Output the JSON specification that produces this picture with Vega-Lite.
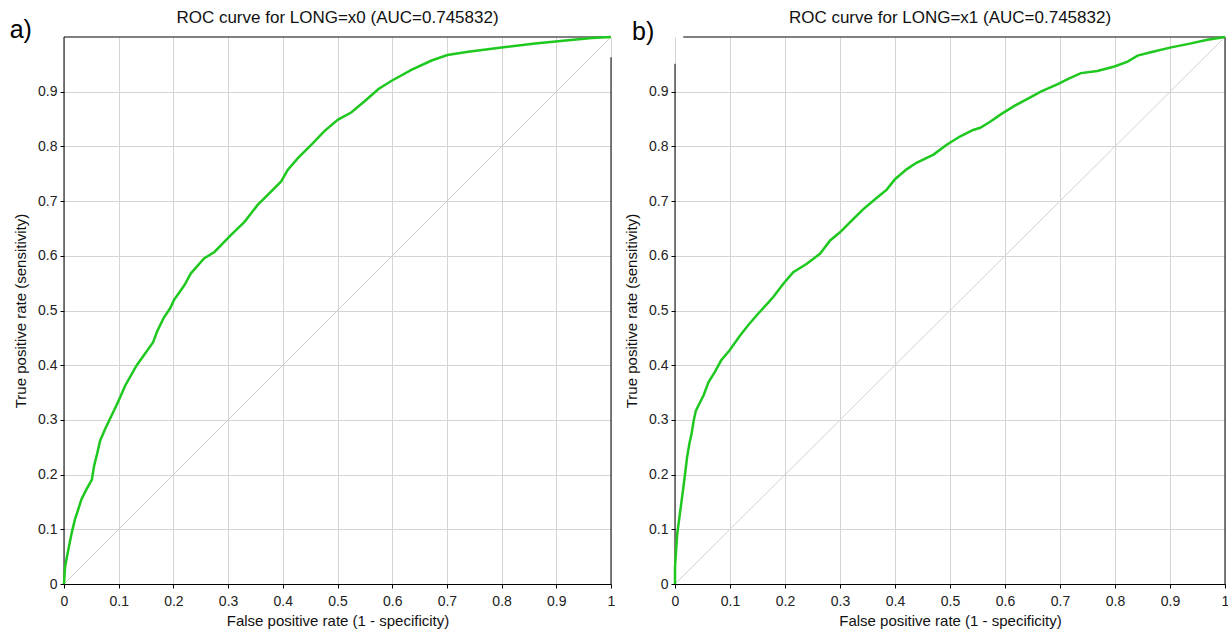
{
  "$schema": "https://vega.github.io/schema/vega-lite/v6.json",
  "padding": {"left": 9, "top": 8, "right": 2, "bottom": 2},
  "background": "#ffffff",
  "spacing": 8,
  "datasets": {
    "curveA": [
      {"fpr":0,"tpr":0},{"fpr":0.002,"tpr":0.032},{"fpr":0.008,"tpr":0.063},{"fpr":0.014,"tpr":0.093},{"fpr":0.020,"tpr":0.118},{"fpr":0.024,"tpr":0.130},{"fpr":0.032,"tpr":0.155},{"fpr":0.041,"tpr":0.173},{"fpr":0.051,"tpr":0.191},{"fpr":0.055,"tpr":0.216},{"fpr":0.061,"tpr":0.240},{"fpr":0.066,"tpr":0.262},{"fpr":0.075,"tpr":0.283},{"fpr":0.087,"tpr":0.308},{"fpr":0.099,"tpr":0.333},{"fpr":0.112,"tpr":0.363},{"fpr":0.133,"tpr":0.400},{"fpr":0.148,"tpr":0.421},{"fpr":0.163,"tpr":0.442},{"fpr":0.170,"tpr":0.461},{"fpr":0.182,"tpr":0.486},{"fpr":0.194,"tpr":0.504},{"fpr":0.201,"tpr":0.519},{"fpr":0.220,"tpr":0.546},{"fpr":0.232,"tpr":0.568},{"fpr":0.256,"tpr":0.595},{"fpr":0.275,"tpr":0.607},{"fpr":0.305,"tpr":0.638},{"fpr":0.330,"tpr":0.662},{"fpr":0.354,"tpr":0.693},{"fpr":0.372,"tpr":0.711},{"fpr":0.397,"tpr":0.736},{"fpr":0.409,"tpr":0.757},{"fpr":0.428,"tpr":0.779},{"fpr":0.452,"tpr":0.803},{"fpr":0.476,"tpr":0.828},{"fpr":0.501,"tpr":0.849},{"fpr":0.525,"tpr":0.862},{"fpr":0.550,"tpr":0.883},{"fpr":0.575,"tpr":0.905},{"fpr":0.599,"tpr":0.920},{"fpr":0.635,"tpr":0.940},{"fpr":0.672,"tpr":0.957},{"fpr":0.701,"tpr":0.967},{"fpr":0.739,"tpr":0.973},{"fpr":0.800,"tpr":0.981},{"fpr":0.861,"tpr":0.988},{"fpr":0.922,"tpr":0.994},{"fpr":0.965,"tpr":0.998},{"fpr":1,"tpr":1}
    ],
    "curveB": [
      {"fpr":0,"tpr":0},{"fpr":0,"tpr":0.03},{"fpr":0.002,"tpr":0.061},{"fpr":0.004,"tpr":0.091},{"fpr":0.008,"tpr":0.122},{"fpr":0.012,"tpr":0.152},{"fpr":0.016,"tpr":0.183},{"fpr":0.019,"tpr":0.207},{"fpr":0.022,"tpr":0.232},{"fpr":0.026,"tpr":0.256},{"fpr":0.030,"tpr":0.274},{"fpr":0.034,"tpr":0.299},{"fpr":0.038,"tpr":0.317},{"fpr":0.044,"tpr":0.329},{"fpr":0.052,"tpr":0.345},{"fpr":0.061,"tpr":0.369},{"fpr":0.072,"tpr":0.387},{"fpr":0.084,"tpr":0.409},{"fpr":0.099,"tpr":0.427},{"fpr":0.118,"tpr":0.454},{"fpr":0.133,"tpr":0.473},{"fpr":0.151,"tpr":0.494},{"fpr":0.170,"tpr":0.515},{"fpr":0.179,"tpr":0.525},{"fpr":0.197,"tpr":0.549},{"fpr":0.215,"tpr":0.570},{"fpr":0.239,"tpr":0.585},{"fpr":0.264,"tpr":0.604},{"fpr":0.282,"tpr":0.628},{"fpr":0.300,"tpr":0.643},{"fpr":0.318,"tpr":0.661},{"fpr":0.342,"tpr":0.685},{"fpr":0.367,"tpr":0.706},{"fpr":0.385,"tpr":0.721},{"fpr":0.400,"tpr":0.740},{"fpr":0.421,"tpr":0.758},{"fpr":0.439,"tpr":0.770},{"fpr":0.470,"tpr":0.785},{"fpr":0.494,"tpr":0.803},{"fpr":0.518,"tpr":0.818},{"fpr":0.542,"tpr":0.830},{"fpr":0.555,"tpr":0.834},{"fpr":0.573,"tpr":0.845},{"fpr":0.593,"tpr":0.859},{"fpr":0.617,"tpr":0.874},{"fpr":0.641,"tpr":0.887},{"fpr":0.665,"tpr":0.900},{"fpr":0.696,"tpr":0.914},{"fpr":0.714,"tpr":0.923},{"fpr":0.738,"tpr":0.934},{"fpr":0.768,"tpr":0.938},{"fpr":0.799,"tpr":0.946},{"fpr":0.823,"tpr":0.955},{"fpr":0.841,"tpr":0.966},{"fpr":0.865,"tpr":0.972},{"fpr":0.902,"tpr":0.981},{"fpr":0.932,"tpr":0.987},{"fpr":0.968,"tpr":0.995},{"fpr":1,"tpr":1}
    ],
    "diag": [{"fpr":0,"tpr":0},{"fpr":1,"tpr":1}],
    "labA": [{"label":"a)"}],
    "labB": [{"label":"b)"}]
  },
  "hconcat": [
    {
      "width": 547,
      "height": 547,
      "title": {"text": "ROC curve for LONG=x0 (AUC=0.745832)", "offset": -9},
      "layer": [
        {
          "data": {"name": "diag"},
          "mark": {"type": "line", "color": "#d2d2d2", "strokeWidth": 1},
          "encoding": {
            "x": {"field": "fpr", "type": "quantitative", "scale": {"domain": [0, 1], "nice": false},
                  "axis": {"title": "False positive rate (1 - specificity)", "values": [0,0.1,0.2,0.3,0.4,0.5,0.6,0.7,0.8,0.9,1], "format": "~g"}},
            "y": {"field": "tpr", "type": "quantitative", "scale": {"domain": [0, 1], "nice": false},
                  "axis": {"title": "True positive rate (sensitivity)", "values": [0,0.1,0.2,0.3,0.4,0.5,0.6,0.7,0.8,0.9], "format": "~g", "domain": false}}
          }
        },
        {
          "data": {"name": "labA"},
          "mark": {"type": "rule", "color": "#000", "strokeWidth": 1},
          "encoding": {"x": {"datum": 0}, "y": {"datum": 0}, "y2": {"datum": 1}}
        },
        {
          "data": {"name": "labA"},
          "mark": {"type": "rule", "color": "#000", "strokeWidth": 1},
          "encoding": {"x": {"datum": 0}, "x2": {"datum": 0.985}, "y": {"datum": 1}}
        },
        {
          "data": {"name": "labA"},
          "mark": {"type": "rule", "color": "#000", "strokeWidth": 1},
          "encoding": {"x": {"datum": 1}, "y": {"datum": 0}, "y2": {"datum": 0.963}}
        },
        {
          "data": {"name": "curveA"},
          "mark": {"type": "line", "color": "#1ec81e", "strokeWidth": 2.5},
          "encoding": {
            "x": {"field": "fpr", "type": "quantitative"},
            "y": {"field": "tpr", "type": "quantitative"},
            "order": {"field": "tpr", "type": "quantitative"}
          }
        },
        {
          "data": {"name": "labA"},
          "mark": {"type": "text", "fontSize": 25, "font": "Liberation Sans", "color": "#000"},
          "encoding": {
            "x": {"datum": -0.079},
            "y": {"datum": 1.013},
            "text": {"field": "label", "type": "nominal"}
          }
        }
      ]
    },
    {
      "width": 550,
      "height": 547,
      "title": {"text": "ROC curve for LONG=x1 (AUC=0.745832)", "offset": -7},
      "layer": [
        {
          "data": {"name": "diag"},
          "mark": {"type": "line", "color": "#d2d2d2", "strokeWidth": 1},
          "encoding": {
            "x": {"field": "fpr", "type": "quantitative", "scale": {"domain": [0, 1], "nice": false},
                  "axis": {"title": "False positive rate (1 - specificity)", "values": [0,0.1,0.2,0.3,0.4,0.5,0.6,0.7,0.8,0.9,1], "format": "~g"}},
            "y": {"field": "tpr", "type": "quantitative", "scale": {"domain": [0, 1], "nice": false},
                  "axis": {"title": "True positive rate (sensitivity)", "values": [0,0.1,0.2,0.3,0.4,0.5,0.6,0.7,0.8,0.9], "format": "~g", "domain": false}}
          }
        },
        {
          "data": {"name": "labB"},
          "mark": {"type": "rule", "color": "#000", "strokeWidth": 1},
          "encoding": {"x": {"datum": 0}, "y": {"datum": 0}, "y2": {"datum": 0.951}}
        },
        {
          "data": {"name": "labB"},
          "mark": {"type": "rule", "color": "#000", "strokeWidth": 1},
          "encoding": {"x": {"datum": 0.015}, "x2": {"datum": 1}, "y": {"datum": 1}}
        },
        {
          "data": {"name": "labB"},
          "mark": {"type": "rule", "color": "#000", "strokeWidth": 1},
          "encoding": {"x": {"datum": 1}, "y": {"datum": 0}, "y2": {"datum": 1}}
        },
        {
          "data": {"name": "curveB"},
          "mark": {"type": "line", "color": "#1ec81e", "strokeWidth": 2.5},
          "encoding": {
            "x": {"field": "fpr", "type": "quantitative"},
            "y": {"field": "tpr", "type": "quantitative"},
            "order": {"field": "tpr", "type": "quantitative"}
          }
        },
        {
          "data": {"name": "labB"},
          "mark": {"type": "text", "fontSize": 25, "font": "Liberation Sans", "color": "#000"},
          "encoding": {
            "x": {"datum": -0.058},
            "y": {"datum": 1.009},
            "text": {"field": "label", "type": "nominal"}
          }
        }
      ]
    }
  ],
  "config": {
    "font": "Liberation Sans",
    "view": {"stroke": null},
    "axis": {
      "grid": true,
      "gridColor": "#d4d4d4",
      "gridWidth": 1,
      "domainColor": "#000",
      "tickColor": "#000",
      "tickSize": 4,
      "labelColor": "#222",
      "labelFont": "Liberation Sans",
      "labelFontSize": 14,
      "labelPadding": 3,
      "labelFlush": false,
      "titleFont": "Liberation Sans",
      "titleFontSize": 15,
      "titleFontWeight": "normal",
      "titleColor": "#111"
    },
    "axisY": {"titlePadding": 9},
    "axisX": {"titlePadding": 5, "labelPadding": 6},
    "title": {"fontSize": 17, "fontWeight": "normal", "color": "#111", "font": "Liberation Sans"}
  }
}
